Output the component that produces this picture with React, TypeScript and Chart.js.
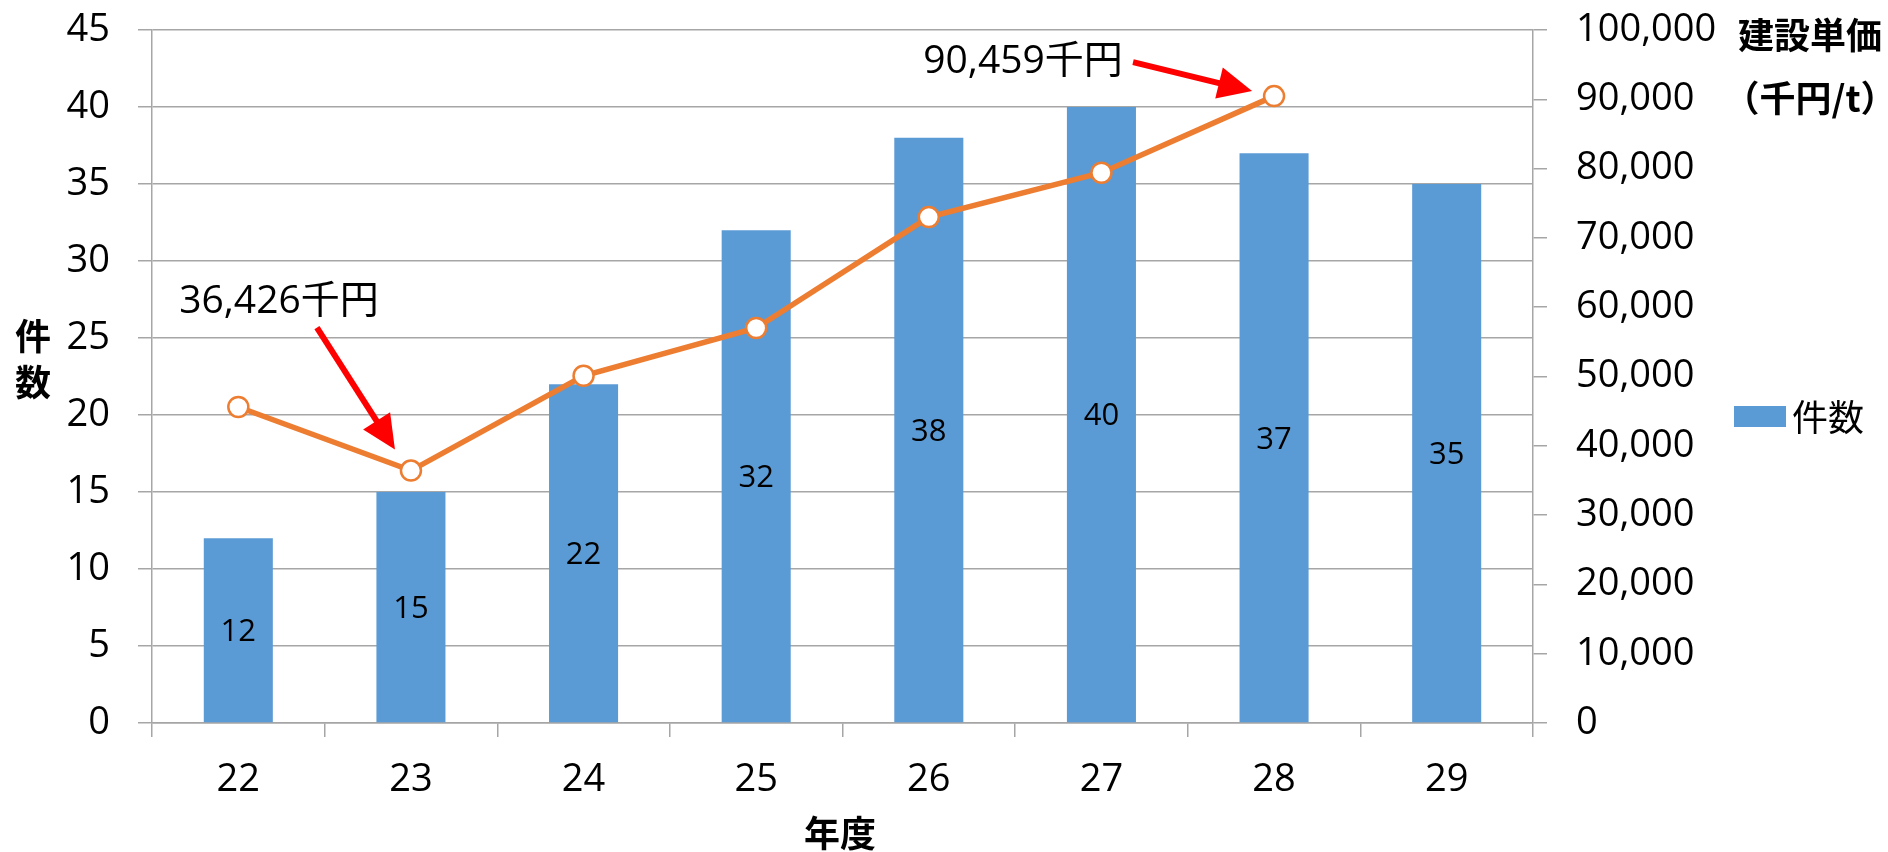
import { useEffect, useRef } from 'react';
import { Chart, registerables } from 'chart.js';

Chart.register(...registerables);

// ---- data ----
const years = ['22', '23', '24', '25', '26', '27', '28', '29'];
const counts = [12, 15, 22, 32, 38, 40, 37, 35];
const unitPrices: (number | null)[] = [45600, 36426, 50100, 57000, 73000, 79400, 90459, null];
const countSeriesName = '件数';
const priceSeriesName = '建設単価';
const countAxisMax = 45;
const countAxisStep = 5;
const priceAxisMax = 100000;
const priceAxisStep = 10000;
const yTitleChars = ['件', '数'];
const xTitle = '年度';
const y1TitleLines = ['建設単価', '（千円/t）'];
const annotationIndices = [1, 6];
const annotationTexts = ['36,426千円', '90,459千円'];

// ---- style ----
const NUM_FONT = "'Open Sans', 'Noto Sans CJK JP', sans-serif";
const CJK_FONT = "'Noto Sans CJK JP', 'Open Sans', sans-serif";
const BAR_COLOR = '#5b9bd5';
const LINE_COLOR = '#ed7d31';
const GRID_COLOR = '#a6a6a6';

// annotation placement relative to the annotated point: text centre, arrow start, arrow tip
const annotationLayout = [
  { tx: -132, ty: -169, ax: -94, ay: -143, bx: -16, by: -21 },
  { tx: -251, ty: -34, ax: -141, ay: -34, bx: -22, by: -5 },
];

function drawArrow(ctx: CanvasRenderingContext2D, x1: number, y1: number, x2: number, y2: number) {
  const ang = Math.atan2(y2 - y1, x2 - x1);
  const headLen = 34;
  const headW = 32;
  const c = Math.cos(ang);
  const s = Math.sin(ang);
  const bx = x2 - headLen * c;
  const by = y2 - headLen * s;
  ctx.save();
  ctx.strokeStyle = '#ff0000';
  ctx.fillStyle = '#ff0000';
  ctx.lineWidth = 6;
  ctx.beginPath();
  ctx.moveTo(x1, y1);
  ctx.lineTo(bx + 2 * c, by + 2 * s);
  ctx.stroke();
  ctx.beginPath();
  ctx.moveTo(x2, y2);
  ctx.lineTo(bx + (headW / 2) * s, by - (headW / 2) * c);
  ctx.lineTo(bx - (headW / 2) * s, by + (headW / 2) * c);
  ctx.closePath();
  ctx.fill();
  ctx.restore();
}

const zeroPad = (s: any) => {
  s.paddingTop = 0;
  s.paddingBottom = 0;
  s.paddingLeft = 0;
  s.paddingRight = 0;
};

const overlayPlugin = {
  id: 'overlay',
  afterDatasetDraw(chart: any, args: any) {
    if (args.index !== 0) return;
    const ctx = chart.ctx as CanvasRenderingContext2D;
    const meta = chart.getDatasetMeta(0);
    ctx.save();
    ctx.font = `31px ${NUM_FONT}`;
    ctx.fillStyle = '#000';
    ctx.textAlign = 'center';
    ctx.textBaseline = 'middle';
    meta.data.forEach((bar: any, i: number) => {
      const { x, y, base } = bar.getProps(['x', 'y', 'base'], true);
      ctx.fillText(String(counts[i]), x, (y + base) / 2 + 2);
    });
    ctx.restore();
  },
  afterDraw(chart: any) {
    const ctx = chart.ctx as CanvasRenderingContext2D;
    ctx.save();
    ctx.fillStyle = '#000';
    ctx.textAlign = 'center';
    ctx.textBaseline = 'middle';
    // left axis title (stacked)
    ctx.font = `bold 36px ${CJK_FONT}`;
    yTitleChars.forEach((ch, i) => ctx.fillText(ch, 33, 336 + i * 46));
    // x axis title
    ctx.fillText(xTitle, 840, 833);
    // right axis title
    y1TitleLines.forEach((ln, i) => ctx.fillText(ln, 1810, 35 + i * 63));
    // legend
    ctx.fillStyle = BAR_COLOR;
    ctx.fillRect(1734, 406, 52, 21);
    ctx.fillStyle = '#000';
    ctx.textAlign = 'left';
    ctx.font = `36px ${CJK_FONT}`;
    ctx.fillText(countSeriesName, 1792, 417);
    // annotations
    const lineMeta = chart.getDatasetMeta(1);
    ctx.font = `39px ${NUM_FONT}`;
    ctx.textAlign = 'center';
    annotationIndices.forEach((idx, k) => {
      const pt = lineMeta.data[idx];
      const L = annotationLayout[k];
      ctx.fillStyle = '#000';
      ctx.fillText(annotationTexts[k], pt.x + L.tx, pt.y + L.ty);
      drawArrow(ctx, pt.x + L.ax, pt.y + L.ay, pt.x + L.bx, pt.y + L.by);
    });
    ctx.restore();
  },
};

export default function App() {
  const canvasRef = useRef<HTMLCanvasElement>(null);

  useEffect(() => {
    if (!canvasRef.current) return;
    const tickFont = { family: NUM_FONT, size: 38 };
    const chart = new Chart(canvasRef.current, {
      type: 'bar',
      data: {
        labels: years,
        datasets: [
          {
            type: 'bar',
            label: countSeriesName,
            data: counts,
            backgroundColor: BAR_COLOR,
            barPercentage: 0.4,
            categoryPercentage: 1,
            yAxisID: 'y',
            order: 2,
          },
          {
            type: 'line',
            label: priceSeriesName,
            data: unitPrices,
            borderColor: LINE_COLOR,
            borderWidth: 5.5,
            pointRadius: 10,
            pointBackgroundColor: '#ffffff',
            pointBorderColor: LINE_COLOR,
            pointBorderWidth: 2.5,
            tension: 0,
            spanGaps: false,
            yAxisID: 'y1',
            order: 1,
          } as any,
        ],
      },
      options: {
        responsive: false,
        devicePixelRatio: 1,
        animation: false,
        layout: { padding: { top: 30, left: 0, right: 0, bottom: 0 } },
        plugins: {
          legend: { display: false },
          tooltip: { enabled: false },
          title: { display: false },
        },
        scales: {
          x: {
            offset: true,
            grid: {
              display: true,
              drawOnChartArea: false,
              offset: true,
              tickLength: 14,
              color: GRID_COLOR,
              lineWidth: 1.5,
            },
            border: { color: GRID_COLOR, width: 1.5 },
            ticks: { font: tickFont, color: '#000', padding: 20, maxRotation: 0 },
            afterFit: (s: any) => {
              s.height = 129;
              zeroPad(s);
            },
          },
          y: {
            position: 'left',
            min: 0,
            max: countAxisMax,
            ticks: { stepSize: countAxisStep, font: tickFont, color: '#000', padding: 28 },
            grid: { color: GRID_COLOR, lineWidth: 1.5, tickLength: 14 },
            border: { color: GRID_COLOR, width: 1.5 },
            afterFit: (s: any) => {
              s.width = 152;
              zeroPad(s);
            },
          },
          y1: {
            position: 'right',
            min: 0,
            max: priceAxisMax,
            ticks: {
              stepSize: priceAxisStep,
              font: tickFont,
              color: '#000',
              padding: 29,
              callback: (v: any) => Number(v).toLocaleString('en-US'),
            },
            grid: { drawOnChartArea: false, color: GRID_COLOR, lineWidth: 1.5, tickLength: 14 },
            border: { color: GRID_COLOR, width: 1.5 },
            afterFit: (s: any) => {
              s.width = 355;
              zeroPad(s);
            },
          },
        },
      },
      plugins: [overlayPlugin],
    } as any);
    return () => chart.destroy();
  }, []);

  return (
    <div style={{ position: 'absolute', left: 0, top: 0, width: 1888, height: 852, background: '#fff' }}>
      <canvas ref={canvasRef} width={1888} height={852} style={{ display: 'block' }} />
    </div>
  );
}
